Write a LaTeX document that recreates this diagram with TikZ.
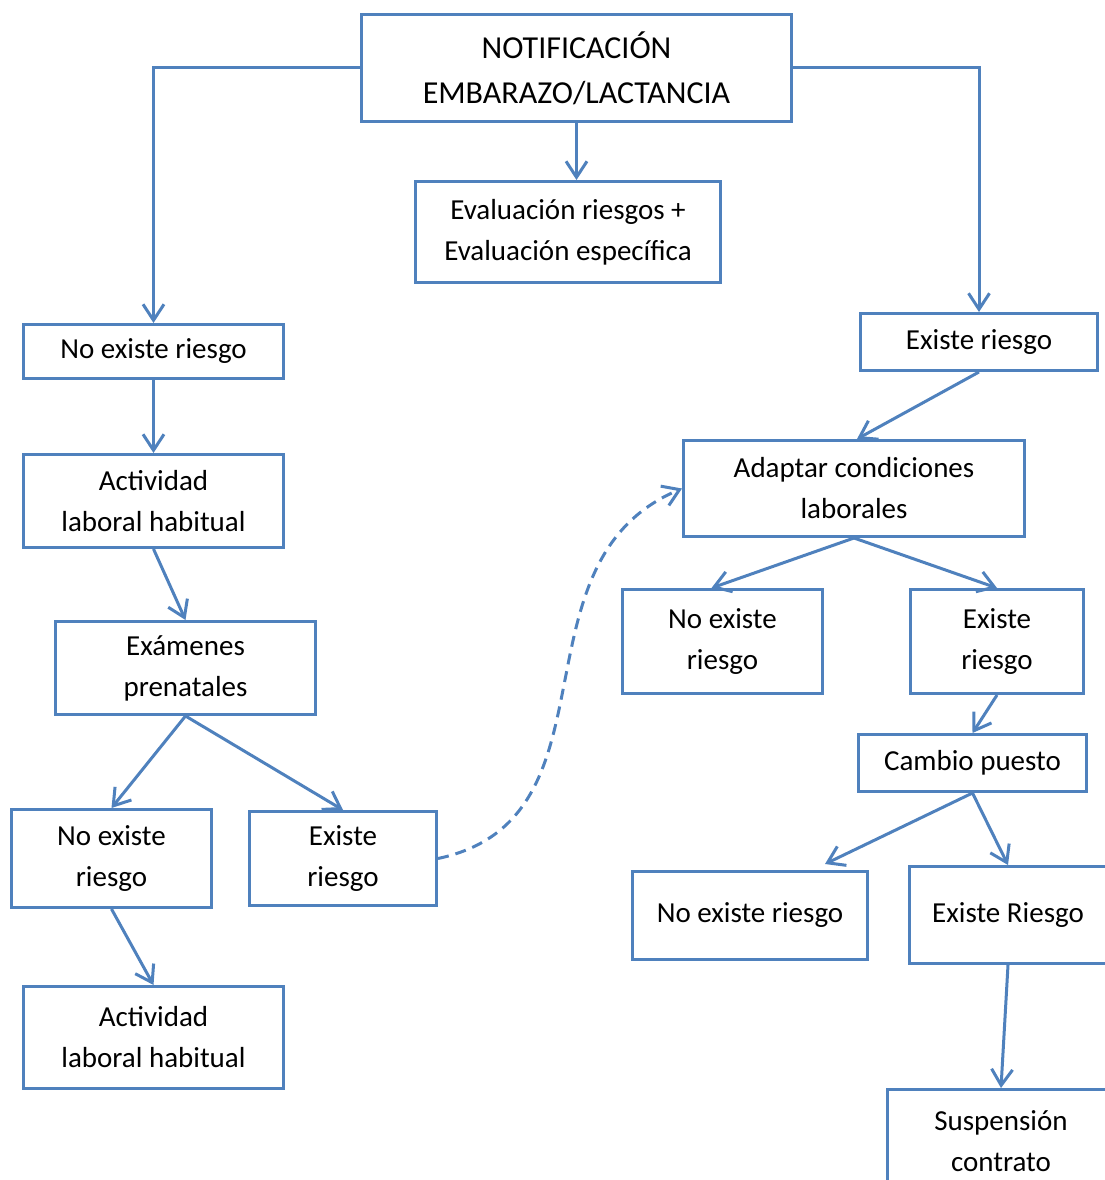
\documentclass[tikz,border=0pt]{standalone}
\usepackage{fontspec}
\setmainfont{Carlito}
\usepackage{tikz}
\usetikzlibrary{arrows.meta}
\definecolor{boxblue}{HTML}{4F81BD}

\begin{document}
\begin{tikzpicture}[x=1pt, y=1pt,
  flowbox/.style={draw=boxblue, line width=3pt, align=center, inner sep=0pt,
    font=\fontsize{29}{41}\selectfont},
  flowarrow/.style={draw=boxblue, line width=3pt,
    -{Straight Barb[length=16pt, width=21pt]}}]

% Set the size of the figure
\clip (0,0) rectangle (1105,-1180);

% Top of the chart
\node[flowbox, minimum width=430pt, minimum height=107pt, font=\fontsize{32}{45}\selectfont] (notif) at (576.5,-68) {NOTIFICACIÓN\\EMBARAZO/LACTANCIA};
\node[flowbox, minimum width=305pt, minimum height=101pt] (evalr) at (568,-232) {Evaluación riesgos +\\Evaluación específica};

% Left branch
\node[flowbox, minimum width=260pt, minimum height=54pt] (noL1) at (153.5,-351.5) {No existe riesgo};
\node[flowbox, minimum width=260pt, minimum height=93pt] (actL1) at (153.5,-501) {Actividad\\laboral habitual};
\node[flowbox, minimum width=260pt, minimum height=93pt] (exam) at (185.5,-668) {Exámenes\\prenatales};
\node[flowbox, minimum width=200pt, minimum height=98pt] (noL2) at (111.5,-858.5) {No existe\\riesgo};
\node[flowbox, minimum width=187pt, minimum height=94pt] (siL2) at (343,-858.5) {Existe\\riesgo};
\node[flowbox, minimum width=260pt, minimum height=102pt] (actL2) at (153.5,-1037.5) {Actividad\\laboral habitual};

% Right branch
\node[flowbox, minimum width=237pt, minimum height=57pt] (siR1) at (979,-342) {Existe riesgo};
\node[flowbox, minimum width=341pt, minimum height=96pt] (adapt) at (854,-488.5) {Adaptar condiciones\\laborales};
\node[flowbox, minimum width=200pt, minimum height=104pt] (noR2) at (722.5,-641.5) {No existe\\riesgo};
\node[flowbox, minimum width=173pt, minimum height=104pt] (siR2) at (997,-641.5) {Existe\\riesgo};
\node[flowbox, minimum width=228pt, minimum height=57pt] (cambio) at (972.5,-763) {Cambio puesto};
\node[flowbox, minimum width=235pt, minimum height=88pt] (noR3) at (750,-915.5) {No existe riesgo};
\node[flowbox, minimum width=198pt, minimum height=97pt] (siR3) at (1008,-915) {Existe Riesgo};
\node[flowbox, minimum width=228pt, minimum height=103pt] (susp) at (1001,-1141) {Suspensión\\contrato};

% Connectors
\draw[flowarrow] (notif.west) -- (noL1.north |- notif.west) -- (noL1.north);
\draw[flowarrow] (notif.east) -| (siR1.north);
\draw[flowarrow] (notif.south) -- (notif.south |- evalr.north);
\draw[flowarrow] (noL1.south) -- (actL1.north);
\draw[flowarrow] (actL1.south) -- (exam.north);
\draw[flowarrow] (exam.south) -- (noL2.north);
\draw[flowarrow] (exam.south) -- (siL2.north);
\draw[flowarrow] (noL2.south) -- (actL2.north);
\draw[flowarrow] (siR1.south) -- ([xshift=3pt]adapt.north);
\draw[flowarrow] (adapt.south) -- ([xshift=-11pt]noR2.north);
\draw[flowarrow] (adapt.south) -- (siR2.north);
\draw[flowarrow] (siR2.south) -- (cambio.north);
\draw[flowarrow] (cambio.south) -- ([xshift=75pt, yshift=6pt]noR3.north);
\draw[flowarrow] (cambio.south) -- (siR3.north);
\draw[flowarrow] (siR3.south) -- (susp.north);

% Dashed link back to the adaptation box
\draw[flowarrow, dash pattern=on 11pt off 7pt] (siL2.east) to[out=12, in=203, looseness=1.1] (adapt.west);
\end{tikzpicture}
\end{document}
